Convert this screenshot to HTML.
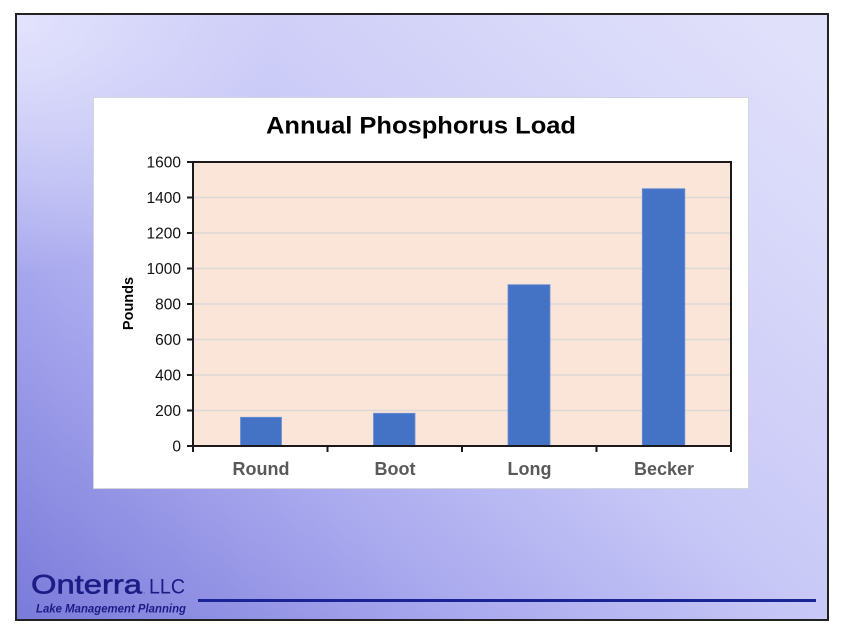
<!DOCTYPE html>
<html><head><meta charset="utf-8"><style>
html,body{margin:0;padding:0;background:#fff;}
body{width:844px;height:639px;overflow:hidden;}
svg{display:block;}
text{font-family:"Liberation Sans",Arial,sans-serif;}
</style></head><body>
<svg width="844" height="639" viewBox="0 0 844 639" xmlns="http://www.w3.org/2000/svg">
<defs>
<linearGradient id="bg" x1="0" y1="1" x2="1" y2="0.1">
<stop offset="0" stop-color="#7a7ada"/>
<stop offset="0.3" stop-color="#a8a8ee"/>
<stop offset="0.55" stop-color="#c8c8f7"/>
<stop offset="0.8" stop-color="#d6d6f9"/>
<stop offset="1" stop-color="#e0e0fb"/>
</linearGradient>
<radialGradient id="tl" cx="16" cy="14" r="260" gradientUnits="userSpaceOnUse">
<stop offset="0" stop-color="#e4e4fd" stop-opacity="1"/>
<stop offset="1" stop-color="#e4e4fd" stop-opacity="0"/>
</radialGradient>
</defs>
<rect x="0" y="0" width="844" height="639" fill="#fff"/>
<rect x="16" y="14" width="812" height="606" fill="url(#bg)"/>
<rect x="16" y="14" width="812" height="606" fill="url(#tl)"/>
<rect x="16" y="14" width="812" height="606" fill="none" stroke="#222" stroke-width="2"/>

<!-- chart box -->
<rect x="93.5" y="97.5" width="655" height="391" fill="#fff" stroke="#d4d4dc" stroke-width="1"/>
<text x="421" y="133.5" font-size="24" font-weight="bold" text-anchor="middle" fill="#000" textLength="310" lengthAdjust="spacingAndGlyphs">Annual Phosphorus Load</text>

<!-- plot area -->
<rect x="193" y="162" width="538" height="284" fill="#fae5d8"/>
<g stroke="#dcd8d6" stroke-width="1.5">
<line x1="194" y1="197.5" x2="730" y2="197.5"/>
<line x1="194" y1="233" x2="730" y2="233"/>
<line x1="194" y1="268.5" x2="730" y2="268.5"/>
<line x1="194" y1="304" x2="730" y2="304"/>
<line x1="194" y1="339.5" x2="730" y2="339.5"/>
<line x1="194" y1="375" x2="730" y2="375"/>
<line x1="194" y1="410.5" x2="730" y2="410.5"/>
</g>
<!-- bars -->
<g fill="#4472c4" stroke="#6a8fd4" stroke-width="0.8">
<rect x="240.5" y="417.3" width="41" height="28.7"/>
<rect x="373.5" y="413.3" width="41.5" height="32.7"/>
<rect x="508" y="284.7" width="42" height="161.3"/>
<rect x="642.3" y="188.7" width="42.5" height="257.3"/>
</g>
<!-- frame -->
<rect x="193" y="162" width="538" height="284" fill="none" stroke="#1a1a1a" stroke-width="2"/>
<g stroke="#1a1a1a" stroke-width="2">
<line x1="187" y1="162" x2="193" y2="162"/>
<line x1="187" y1="197.5" x2="193" y2="197.5"/>
<line x1="187" y1="233" x2="193" y2="233"/>
<line x1="187" y1="268.5" x2="193" y2="268.5"/>
<line x1="187" y1="304" x2="193" y2="304"/>
<line x1="187" y1="339.5" x2="193" y2="339.5"/>
<line x1="187" y1="375" x2="193" y2="375"/>
<line x1="187" y1="410.5" x2="193" y2="410.5"/>
<line x1="187" y1="446" x2="193" y2="446"/>
<line x1="193" y1="446" x2="193" y2="452"/>
<line x1="327.5" y1="446" x2="327.5" y2="452"/>
<line x1="462" y1="446" x2="462" y2="452"/>
<line x1="596.5" y1="446" x2="596.5" y2="452"/>
<line x1="731" y1="446" x2="731" y2="452"/>
</g>
<g font-size="15.5" fill="#111" text-anchor="end">
<text x="181" y="167.5">1600</text>
<text x="181" y="203">1400</text>
<text x="181" y="238.5">1200</text>
<text x="181" y="274">1000</text>
<text x="181" y="309.5">800</text>
<text x="181" y="345">600</text>
<text x="181" y="380.5">400</text>
<text x="181" y="416">200</text>
<text x="181" y="451.5">0</text>
</g>
<text transform="translate(133,303.5) rotate(-90)" font-size="14.5" font-weight="bold" text-anchor="middle" fill="#000">Pounds</text>
<g font-size="18" font-weight="bold" fill="#595959" text-anchor="middle">
<text x="261" y="475">Round</text>
<text x="395" y="475">Boot</text>
<text x="529.5" y="475">Long</text>
<text x="664" y="475">Becker</text>
</g>

<!-- logo -->
<text x="31" y="593.5" font-size="27" fill="#1c1c86" stroke="#1c1c86" stroke-width="0.6" textLength="111" lengthAdjust="spacingAndGlyphs">Onterra</text>
<text x="143" y="593.5" font-size="8" fill="#1c1c86">.</text>
<text x="149" y="593.5" font-size="21" fill="#1c1c86" font-family="'Liberation Serif',serif" textLength="36" lengthAdjust="spacingAndGlyphs">LLC</text>
<text x="36" y="612.5" font-size="11.5" font-style="italic" font-weight="bold" fill="#1c1c86" textLength="150" lengthAdjust="spacingAndGlyphs">Lake Management Planning</text>
<line x1="198" y1="600.5" x2="816" y2="600.5" stroke="#1a2494" stroke-width="3"/>
</svg>
</body></html>
